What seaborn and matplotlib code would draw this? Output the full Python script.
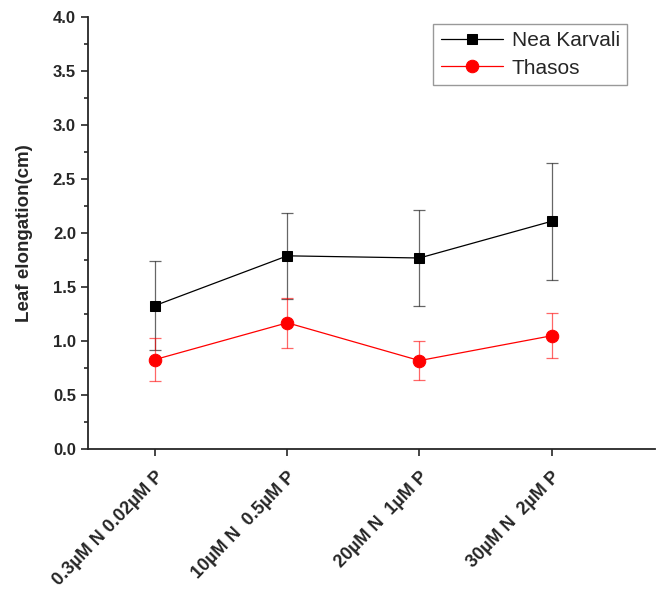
import numpy as np
import pandas as pd
import matplotlib
matplotlib.use("Agg")
import matplotlib.pyplot as plt
import seaborn as sns

# data
treatments = ["0.3µM N 0.02µM P", "10µM N  0.5µM P", "20µM N  1µM P", "30µM N  2µM P"]
nea_karvali = [1.33, 1.79, 1.77, 2.11]
nea_karvali_err = [0.41, 0.40, 0.44, 0.54]
thasos = [0.83, 1.17, 0.82, 1.05]
thasos_err = [0.20, 0.23, 0.18, 0.21]

sns.set_style("ticks")
plt.rcParams['font.family'] = ['Liberation Sans', 'DejaVu Sans']

df = pd.DataFrame({
    "pos": list(range(len(treatments))) * 2,
    "value": nea_karvali + thasos,
    "err": nea_karvali_err + thasos_err,
    "cultivar": ["Nea Karvali"] * 4 + ["Thasos"] * 4,
})

fig = plt.figure(figsize=(6.6, 5.91), dpi=100)
ax = fig.add_axes([0.133, 0.240, 0.859, 0.731])

styles = {"Nea Karvali": ("black", "s", 7), "Thasos": ("red", "o", 9)}
for name, (col, mk, ms) in styles.items():
    sub = df[df["cultivar"] == name]
    ax.errorbar(sub["pos"], sub["value"], yerr=sub["err"], fmt="none",
                ecolor=col, elinewidth=0.9, capsize=4, capthick=0.9, alpha=0.6)
    sns.lineplot(data=sub, x="pos", y="value", ax=ax, color=col, marker=mk,
                 markersize=ms, markeredgecolor=col, linewidth=0.9,
                 label=name, zorder=3)

ax.set_xlim(-0.51, 3.78)
ax.set_ylim(0, 4.0)
ax.set_yticks(np.arange(0, 4.01, 0.5))
ax.set_yticks(np.arange(0, 4.01, 0.25), minor=True)
ax.set_xticks(range(len(treatments)))
ax.set_xticklabels(treatments, rotation=46, ha="right", rotation_mode="anchor",
                   fontsize=13, fontweight="bold")
for lab in ax.get_yticklabels():
    lab.set_fontweight("bold")
    lab.set_fontsize(12)
ax.tick_params(axis="both", direction="out", length=5, width=1.2)
ax.tick_params(axis="x", pad=9)
ax.tick_params(axis="y", which="minor", length=3, width=1.2)
ax.set_xlabel("")
ax.set_ylabel("Leaf elongation(cm)", fontsize=13.5, fontweight="bold", labelpad=14)
sns.despine(ax=ax)
for s in ["left", "bottom"]:
    ax.spines[s].set_linewidth(1.3)

leg = ax.legend(loc="upper right", bbox_to_anchor=(0.951, 0.984), fontsize=15,
                frameon=True, fancybox=False, edgecolor="gray",
                handlelength=3.0, handletextpad=0.4, borderpad=0.35,
                labelspacing=0.4, borderaxespad=0)
leg.get_frame().set_linewidth(1.0)

fig.savefig("out.png", dpi=100)
